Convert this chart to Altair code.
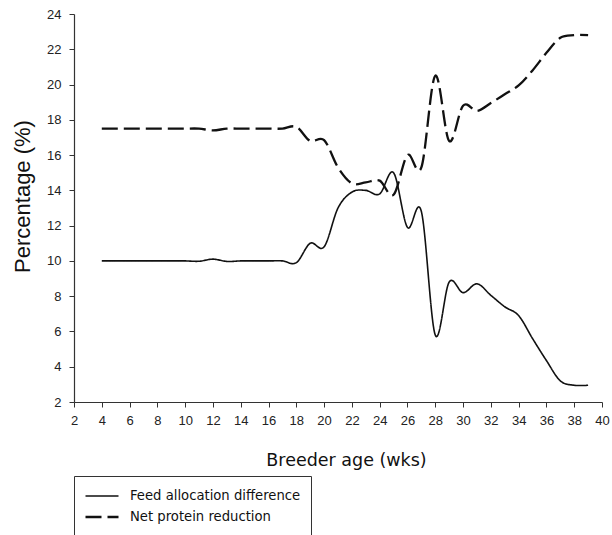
import altair as alt
import pandas as pd

weeks = list(range(4, 40))
feed_allocation_difference = [
    10, 10, 10, 10, 10, 10, 10, 9.98, 10.1, 9.97, 10, 10, 10, 10, 9.9, 11.0,
    10.8, 13.0, 13.9, 14.0, 13.8, 15.0, 11.9, 12.8, 5.8, 8.8, 8.2, 8.7, 8.05,
    7.4, 6.9, 5.6, 4.35, 3.2, 2.95, 2.95,
]
net_protein_reduction = [
    17.5, 17.5, 17.5, 17.5, 17.5, 17.5, 17.5, 17.5, 17.4, 17.5, 17.5, 17.5,
    17.5, 17.5, 17.6, 16.8, 16.85, 15.3, 14.4, 14.45, 14.55, 13.75, 16.0, 15.3,
    20.5, 16.8, 18.8, 18.5, 18.95, 19.45, 19.95, 20.8, 21.8, 22.65, 22.8, 22.8,
]
series_names = ["Feed allocation difference", "Net protein reduction"]
x_ticks = list(range(2, 41, 2))
y_ticks = list(range(2, 25, 2))

df = pd.DataFrame({
    "week": weeks + weeks,
    "value": feed_allocation_difference + net_protein_reduction,
    "series": [series_names[0]] * len(weeks) + [series_names[1]] * len(weeks),
})

legend_kw = dict(
    title=None,
    orient="none",
    legendX=0,
    legendY=462,
    strokeColor="#333333",
    padding=10,
    symbolType="stroke",
    symbolSize=1089,
    symbolStrokeWidth=1.8,
    clipHeight=20,
    rowPadding=1,
    labelFont="DejaVu Sans",
    labelFontSize=13.2,
    labelColor="#111111",
    labelOffset=10,
    labelLimit=400,
)

chart = alt.Chart(df).mark_line(interpolate="cardinal").encode(
    x=alt.X(
        "week:Q",
        scale=alt.Scale(domain=[2, 40], nice=False, zero=False),
        axis=alt.Axis(
            values=x_ticks,
            title="Breeder age (wks)",
            titleFont="DejaVu Sans",
            titleFontSize=17.5,
            titleFontWeight="normal",
            titleColor="#111111",
            titleX=272,
            titleY=58,
            titleBaseline="middle",
            labelPadding=7,
        ),
    ),
    y=alt.Y(
        "value:Q",
        scale=alt.Scale(domain=[2, 24], nice=False, zero=False),
        axis=alt.Axis(
            values=y_ticks,
            title="Percentage (%)",
            titleFont="Liberation Sans",
            titleFontSize=22,
            titleFontWeight="normal",
            titleColor="#111111",
            titleX=-52,
            titleY=182,
            titleBaseline="middle",
            labelPadding=8,
        ),
    ),
    color=alt.Color(
        "series:N",
        scale=alt.Scale(domain=series_names, range=["#111111", "#111111"]),
        legend=alt.Legend(**legend_kw),
    ),
    strokeDash=alt.StrokeDash(
        "series:N",
        scale=alt.Scale(domain=series_names, range=[[1, 0], [16, 6]]),
        legend=alt.Legend(**legend_kw),
    ),
    strokeWidth=alt.StrokeWidth(
        "series:N",
        scale=alt.Scale(domain=series_names, range=[1.6, 2.3]),
        legend=None,
    ),
).properties(
    width=528,
    height=388,
    autosize=alt.AutoSizeParams(type="none"),
    padding={"left": 74, "top": 14, "right": 10, "bottom": 133},
).configure_view(
    stroke=None
).configure_axis(
    grid=False,
    domainColor="#333333",
    domainWidth=1.2,
    tickColor="#333333",
    tickSize=5,
    labelFont="Liberation Sans",
    labelFontSize=13,
    labelColor="#222222",
    labelFlush=False,
    labelOverlap=False,
)

chart.save("out.html", embed_options={"renderer": "svg", "actions": False})
